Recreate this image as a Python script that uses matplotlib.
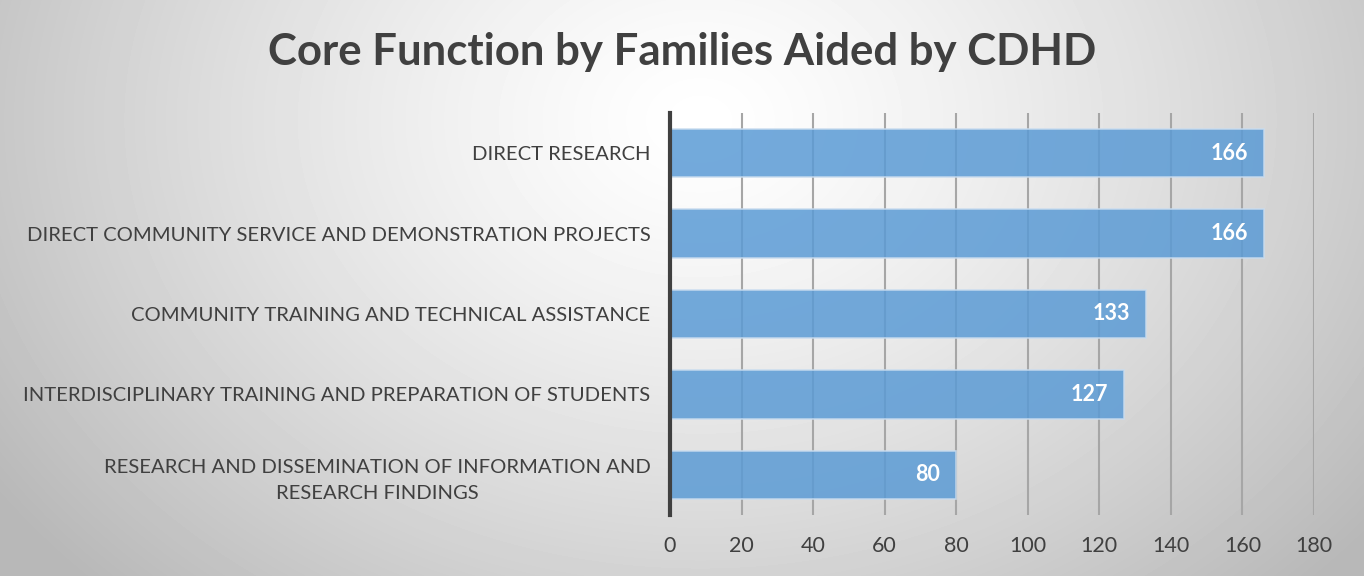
import numpy as np
import matplotlib
matplotlib.use("Agg")
import matplotlib.pyplot as plt

categories = [
    "DIRECT RESEARCH",
    "DIRECT COMMUNITY SERVICE AND DEMONSTRATION PROJECTS",
    "COMMUNITY TRAINING AND TECHNICAL ASSISTANCE",
    "INTERDISCIPLINARY TRAINING AND PREPARATION OF STUDENTS",
    "RESEARCH AND DISSEMINATION OF INFORMATION AND\nRESEARCH FINDINGS",
]
families = [166, 166, 133, 127, 80]
xticks = [0, 20, 40, 60, 80, 100, 120, 140, 160, 180]

plt.rcParams['font.family'] = ['Lato', 'DejaVu Sans']

fig = plt.figure(figsize=(13.64, 5.76), dpi=100)

# radial gradient background
bg = fig.add_axes([0, 0, 1, 1], zorder=-10)
h, w = 576, 1364
yy, xx = np.mgrid[0:h, 0:w]
d = np.sqrt(((xx - 700) / 900.0) ** 2 + ((yy - 120) / 700.0) ** 2)
shade = np.clip(1.0 - 0.30 * d ** 1.3, 0.72, 1.0)
bg.imshow(shade, cmap='gray', vmin=0, vmax=1, aspect='auto',
          extent=[0, 1, 0, 1], origin='upper')
bg.set_axis_off()

ax = fig.add_axes([670 / w, 1 - 515 / h, 644 / w, 402 / h])
ax.patch.set_alpha(0)

pos = np.arange(len(categories))
bars = ax.barh(pos, families, height=0.6, color='#5b9bd5', alpha=0.85,
               edgecolor='#c9dcef', linewidth=1.2, zorder=3)
ax.set_ylim(len(categories) - 0.5, -0.5)
ax.set_xlim(0, 180)
ax.set_yticks(pos)
ax.set_yticklabels(categories, fontsize=14.6, color='#404040',
                   linespacing=1.65, multialignment='center')
ax.set_xticks(xticks)
ax.set_xticklabels([str(t) for t in xticks], fontsize=15.5, color='#404040')
ax.tick_params(axis='both', length=0)
ax.tick_params(axis='y', pad=14)
ax.tick_params(axis='x', pad=15)

for t in xticks[1:]:
    ax.axvline(t, color='#a6a6a6', linewidth=1.5, zorder=1)

for s in ['top', 'right', 'bottom']:
    ax.spines[s].set_visible(False)
ax.spines['left'].set_color('#404040')
ax.spines['left'].set_linewidth(3)
ax.spines['left'].set_zorder(4)

for b, v in zip(bars, families):
    ax.text(v - 4.5, b.get_y() + b.get_height() / 2, str(v),
            ha='right', va='center', color='white', fontsize=15.5,
            fontweight='bold', zorder=5)

fig.text(0.5, 1 - 52 / h, "Core Function by Families Aided by CDHD",
         ha='center', va='center', fontsize=31.5, fontweight='bold',
         color='#404040')

fig.savefig('out.png', dpi=100)
